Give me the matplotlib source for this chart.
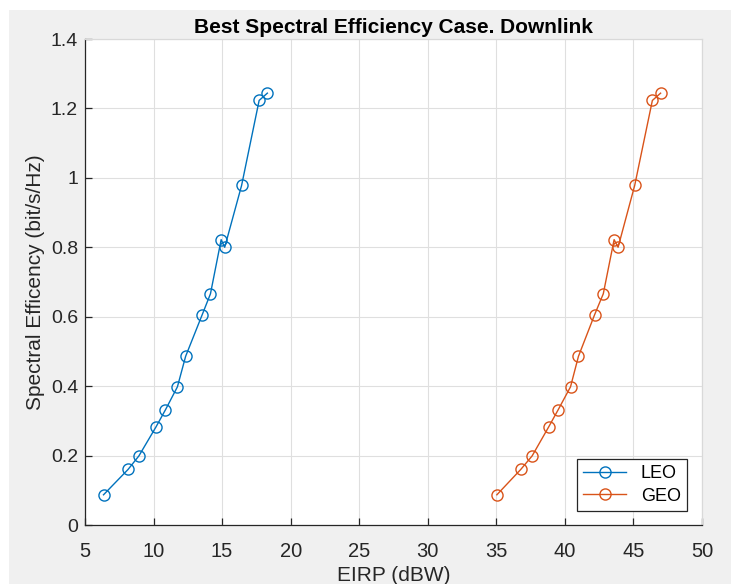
import matplotlib
matplotlib.use("Agg")
import matplotlib.pyplot as plt
from matplotlib.patches import Rectangle

leo_x = [6.35, 8.14, 8.93, 10.17, 10.87, 11.74, 12.34, 13.55, 14.15, 14.93, 15.19, 16.42, 17.70, 18.30]
leo_y = [0.087, 0.160, 0.199, 0.282, 0.332, 0.398, 0.486, 0.606, 0.666, 0.822, 0.800, 0.978, 1.223, 1.244]
geo_x = [35.04, 36.78, 37.61, 38.81, 39.51, 40.41, 40.99, 42.17, 42.80, 43.59, 43.88, 45.09, 46.38, 46.98]
geo_y = leo_y
x_ticks = [5, 10, 15, 20, 25, 30, 35, 40, 45, 50]
y_ticks = [0, 0.2, 0.4, 0.6, 0.8, 1.0, 1.2, 1.4]
y_tick_labels = ["0", "0.2", "0.4", "0.6", "0.8", "1", "1.2", "1.4"]

plt.rcParams['font.family'] = ['Liberation Sans', 'DejaVu Sans']
W, H = 731, 584
fig = plt.figure(figsize=(W / 100, H / 100), dpi=100)
fig.patch.set_facecolor('white')
fig.patches.append(Rectangle((9 / W, 0), 1 - 9 / W, 1 - 10 / H, transform=fig.transFigure,
                             facecolor='#f0f0f0', edgecolor='none', zorder=-10))

ax = fig.add_axes([85 / W, 1 - 525 / H, (702 - 85) / W, (525 - 39) / H])
ax.set_facecolor('white')
ax.plot(leo_x, leo_y, '-o', color='#0072BD', mfc='none', ms=8, lw=1.0, mew=1.0, label='LEO')
ax.plot(geo_x, geo_y, '-o', color='#D95319', mfc='none', ms=8, lw=1.0, mew=1.0, label='GEO')

ax.set_xlim(5, 50)
ax.set_ylim(0, 1.4)
ax.set_xticks(x_ticks)
ax.set_yticks(y_ticks)
ax.set_yticklabels(y_tick_labels)
ax.grid(True, color='#dfdfdf', lw=0.8)
ax.set_axisbelow(True)
for s in ['left', 'bottom']:
    ax.spines[s].set_color('#262626')
    ax.spines[s].set_linewidth(0.9)
for s in ['top', 'right']:
    ax.spines[s].set_color('#d9d9d9')
    ax.spines[s].set_linewidth(0.9)
ax.tick_params(direction='in', length=5, width=0.9, color='#262626', labelcolor='#262626', labelsize=14, pad=5)
ax.tick_params(axis='x', labelsize=14.5, pad=12)

ax.set_title('Best Spectral Efficiency Case. Downlink', fontsize=15, fontweight='bold', pad=4)
ax.set_xlabel('EIRP (dBW)', fontsize=15, color='#262626', labelpad=4)
ax.set_ylabel('Spectral Efficency (bit/s/Hz)', fontsize=15, color='#262626', labelpad=4)

leg = ax.legend(loc='lower right', fontsize=13, fancybox=False, edgecolor='#262626',
                framealpha=1, borderpad=0.35, handlelength=2.4, borderaxespad=0,
                labelspacing=0.3, bbox_to_anchor=(0.9757, 0.0288))
leg.get_frame().set_linewidth(0.9)

fig.savefig('out.png', dpi=100)
